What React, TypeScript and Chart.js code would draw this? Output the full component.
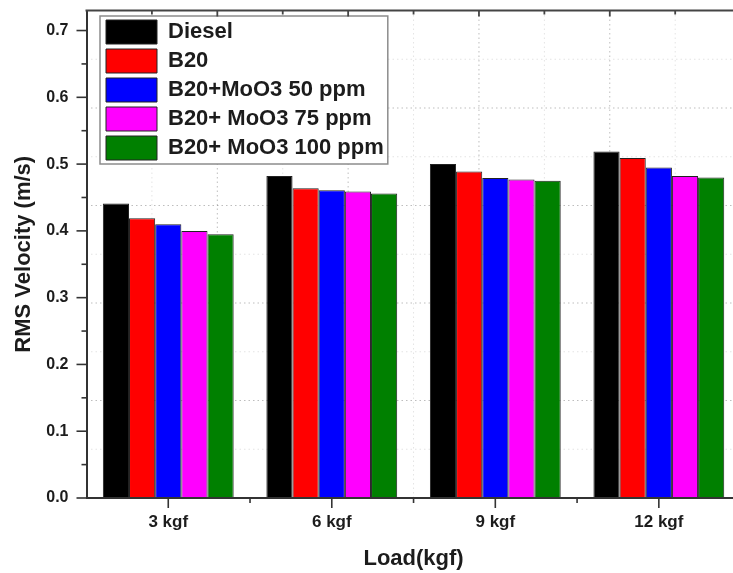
import React, { useEffect, useRef } from 'react';
import { Chart, registerables } from 'chart.js';

Chart.register(...registerables);

// ---- data ----
const categories = ['3 kgf', '6 kgf', '9 kgf', '12 kgf'];
const seriesNames = ['Diesel', 'B20', 'B20+MoO3 50 ppm', 'B20+ MoO3 75 ppm', 'B20+ MoO3 100 ppm'];
const dieselValues = [0.441, 0.482, 0.5, 0.519];
const b20Values = [0.419, 0.464, 0.489, 0.509];
const moo3_50Values = [0.41, 0.461, 0.479, 0.495];
const moo3_75Values = [0.4, 0.459, 0.477, 0.482];
const moo3_100Values = [0.395, 0.456, 0.475, 0.48];
const seriesValues = [dieselValues, b20Values, moo3_50Values, moo3_75Values, moo3_100Values];
const seriesColors = ['#000000', '#ff0000', '#0000ff', '#ff00ff', '#008000'];

const yMin = 0;
const yMax = 0.73;
const yMajorStep = 0.1;
const yMinorStep = 0.05;
const yTitle = 'RMS Velocity (m/s)';
const xTitle = 'Load(kgf)';

const FONT = '"Liberation Sans", Arial, Helvetica, sans-serif';
const TEXT = '#1c1c1c';
const AXIS = '#333333';

const isMajor = (v: number) => Math.abs(v / yMajorStep - Math.round(v / yMajorStep)) < 1e-6;

const decor = {
  id: 'decor',
  afterLayout(chart: any) {
    const lg = chart.legend;
    if (!lg) return;
    const ca = chart.chartArea;
    lg.left = ca.left + 14.5;
    lg.top = ca.top + 4.5;
    lg.right = lg.left + lg.width;
    lg.bottom = lg.top + lg.height;
  },
  beforeDraw(chart: any) {
    const { ctx, chartArea: ca } = chart;
    ctx.save();
    ctx.lineWidth = 1;
    ctx.setLineDash([1.5, 3]);
    const n = 10;
    for (let i = 1; i < n; i++) {
      const x = ca.left + (i * (ca.right - ca.left)) / n;
      ctx.strokeStyle = i % 2 === 0 ? 'rgba(0,0,0,0.26)' : 'rgba(0,0,0,0.11)';
      ctx.beginPath();
      ctx.moveTo(x, ca.top);
      ctx.lineTo(x, ca.bottom);
      ctx.stroke();
    }
    for (let j = 1; j < n; j++) {
      const y = ca.bottom - (j * (ca.bottom - ca.top)) / n;
      ctx.strokeStyle = j % 2 === 0 ? 'rgba(0,0,0,0.26)' : 'rgba(0,0,0,0.11)';
      ctx.beginPath();
      ctx.moveTo(ca.left, y);
      ctx.lineTo(ca.right, y);
      ctx.stroke();
    }
    ctx.setLineDash([]);
    const lg = chart.legend;
    if (lg && lg.legendHitBoxes && lg.legendHitBoxes.length) {
      const hb = lg.legendHitBoxes;
      let r = 0;
      hb.forEach((h: any) => (r = Math.max(r, h.left + h.width)));
      const l = hb[0].left - 6;
      const t = hb[0].top - 4;
      const last = hb[hb.length - 1];
      const b = last.top + last.height + 4;
      r = r + 4;
      ctx.fillStyle = '#ffffff';
      ctx.fillRect(l, t, r - l, b - t);
      ctx.strokeStyle = '#8c8c8c';
      ctx.lineWidth = 1.5;
      ctx.strokeRect(l, t, r - l, b - t);
    }
    ctx.restore();
  },
  afterDraw(chart: any) {
    const { ctx, chartArea: ca } = chart;
    const ys = chart.scales.y;
    const xs = chart.scales.x;
    ctx.save();
    ctx.strokeStyle = AXIS;
    ctx.lineWidth = 1.6;
    ys.ticks.forEach((t: any) => {
      const v = t.value;
      const py = ys.getPixelForValue(v);
      const len = isMajor(v) ? 10 : 5;
      ctx.beginPath();
      ctx.moveTo(ca.left - len, py);
      ctx.lineTo(ca.left, py);
      ctx.stroke();
    });
    categories.forEach((_, i) => {
      const px = xs.getPixelForValue(i);
      ctx.beginPath();
      ctx.moveTo(px, ca.bottom);
      ctx.lineTo(px, ca.bottom + 10);
      ctx.stroke();
      if (i < categories.length - 1) {
        const mx = (px + xs.getPixelForValue(i + 1)) / 2;
        ctx.beginPath();
        ctx.moveTo(mx, ca.bottom);
        ctx.lineTo(mx, ca.bottom + 5);
        ctx.stroke();
      }
    });
    // top frame with inward ticks
    ctx.strokeStyle = '#444444';
    ctx.lineWidth = 2;
    ctx.beginPath();
    ctx.moveTo(ca.left - 1, ca.top);
    ctx.lineTo(ca.right, ca.top);
    ctx.stroke();
    const n = 10;
    ctx.lineWidth = 1.8;
    for (let i = 1; i < n; i++) {
      const x = ca.left + (i * (ca.right - ca.left)) / n;
      const len = i % 2 === 0 ? 6 : 4;
      ctx.beginPath();
      ctx.moveTo(x, ca.top);
      ctx.lineTo(x, ca.top + len);
      ctx.stroke();
    }
    ctx.restore();
  },
};

export default function App() {
  const ref = useRef<HTMLCanvasElement>(null);

  useEffect(() => {
    if (!ref.current) return;
    Chart.defaults.font.family = FONT;
    const chart = new Chart(ref.current, {
      type: 'bar',
      data: {
        labels: categories,
        datasets: seriesNames.map((name, i) => ({
          label: name,
          data: seriesValues[i],
          backgroundColor: seriesColors[i],
          borderColor: '#222222',
          borderWidth: 1,
          categoryPercentage: 0.8,
          barPercentage: 1.0,
        })),
      },
      options: {
        responsive: false,
        animation: false,
        devicePixelRatio: 1,
        layout: { padding: { top: 10.5, right: 1.4, left: 0, bottom: 0 } },
        plugins: {
          tooltip: { enabled: false },
          legend: {
            position: 'chartArea',
            align: 'start',
            labels: {
              boxWidth: 51,
              boxHeight: 24,
              padding: 5,
              color: TEXT,
              font: { size: 22, weight: 'bold', family: FONT },
            },
          },
        },
        scales: {
          x: {
            type: 'category',
            offset: true,
            grid: {
              display: true,
              drawOnChartArea: false,
              drawTicks: true,
              tickLength: 14,
              color: 'rgba(0,0,0,0)',
            },
            border: { display: true, width: 2, color: AXIS, z: 1 },
            ticks: {
              color: TEXT,
              padding: 0,
              maxRotation: 0,
              font: { size: 17, weight: 'bold', family: FONT },
            },
            title: {
              display: true,
              text: xTitle,
              color: TEXT,
              padding: { top: 0, bottom: 1 },
              font: { size: 22, weight: 'bold', family: FONT },
            },
            afterFit: (scale: any) => {
              scale.height = 75;
            },
          },
          y: {
            type: 'linear',
            min: yMin,
            max: yMax,
            grid: {
              display: true,
              drawOnChartArea: false,
              drawTicks: true,
              tickLength: 18,
              color: 'rgba(0,0,0,0)',
            },
            border: { display: true, width: 2, color: AXIS, z: 1 },
            ticks: {
              stepSize: yMinorStep,
              includeBounds: false,
              color: TEXT,
              padding: 0,
              font: { size: 16, weight: 'bold', family: FONT },
              callback: (v: any) => (isMajor(Number(v)) ? Number(v).toFixed(1) : ''),
            },
            title: {
              display: true,
              text: yTitle,
              color: TEXT,
              padding: { top: 11, bottom: 0 },
              font: { size: 22, weight: 'bold', family: FONT },
            },
            afterFit: (scale: any) => {
              scale.width = 86.5;
            },
          },
        },
      },
      plugins: [decor],
    } as any);
    return () => chart.destroy();
  }, []);

  return (
    <canvas
      ref={ref}
      width={742}
      height={573}
      style={{ position: 'fixed', left: 0, top: 0, width: 742, height: 573, display: 'block' }}
    />
  );
}
